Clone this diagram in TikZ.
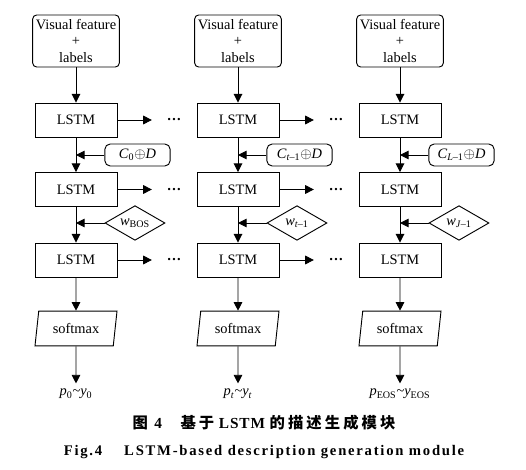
\documentclass[tikz,border=0pt]{standalone}
\usepackage{fontspec}
\setmainfont{Liberation Serif}
\newfontfamily\cjk{Noto Sans CJK SC}[LetterSpace=20]
\newfontfamily\cjklatin{Liberation Serif}[LetterSpace=6]
\newfontfamily\capfont{Liberation Serif}[LetterSpace=12]
\usetikzlibrary{arrows.meta,positioning,shapes.geometric}

\begin{document}
\begin{tikzpicture}[
  x=0.75pt,y=-0.75pt,
  every node/.style={font=\fontsize{10.8}{12.5}\selectfont},
  >={Triangle[length=6.5pt,width=6.5pt]},
  flow/.style={->,line width=0.7pt},
  inp/.style={draw,line width=0.7pt,rounded corners=3pt,minimum width=65pt,minimum height=39pt,align=center,inner sep=1pt},
  lstm/.style={draw,line width=0.7pt,minimum width=61.5pt,minimum height=25.5pt},
  cell/.style={draw,line width=0.7pt,rounded corners=4pt,minimum width=49pt,minimum height=16.5pt,inner sep=1pt},
  word/.style={draw,line width=0.7pt,diamond,aspect=1.8,minimum width=45pt,minimum height=26pt,inner sep=0pt},
  smax/.style={draw,line width=0.7pt,trapezium,trapezium left angle=79,trapezium right angle=101,
    trapezium stretches body,minimum width=61.5pt,minimum height=26pt,inner xsep=2pt},
  more/.style={inner xsep=11pt,inner ysep=2pt,font=\fontsize{10.8}{12.5}\selectfont\bfseries},
  outp/.style={inner ysep=4pt}]
\useasboundingbox (0,0) rectangle (526,470);

% one column per time step
\foreach \i/\cx/\cl/\wl/\ol in {
  0/76/{\textit{C}\textsubscript{0}$\oplus$\textit{D}}/{\textit{w}\textsubscript{BOS}}/{\textit{p}\textsubscript{0}\textasciitilde\textit{y}\textsubscript{0}},
  1/238/{\textit{C}\textsubscript{\textit{t}\textendash1}$\oplus$\textit{D}}/{\textit{w}\textsubscript{\textit{t}\textendash1}}/{\textit{p}\textsubscript{\textit{t}}\textasciitilde\textit{y}\textsubscript{\textit{t}}},
  2/400/{\textit{C}\textsubscript{\textit{L}\textendash1}$\oplus$\textit{D}}/{\textit{w}\textsubscript{\textit{J}\textendash1}}/{\textit{p}\textsubscript{EOS}\textasciitilde\textit{y}\textsubscript{EOS}}}
{
  \node[inp] (vis\i) at (\cx,41) {Visual feature\\+\\labels};
  \node[lstm] (lstmA\i) at (\cx,120) {LSTM};
  \node[cell] (cell\i) at (\cx+61.5,155) {\cl};
  \node[lstm] (lstmB\i) at (\cx,189.5) {LSTM};
  \node[word] (word\i) at (\cx+59,223) {\wl};
  \node[lstm] (lstmC\i) at (\cx,260) {LSTM};
  \node[smax] (soft\i) at (\cx,328.5) {softmax};
  \node[outp] (out\i) at (\cx,394) {\ol};
  \draw[flow] (vis\i) -- (lstmA\i);
  \draw[flow] (lstmA\i) -- (lstmB\i);
  \draw[flow] (lstmB\i) -- (lstmC\i);
  \draw[flow] (lstmC\i) -- (soft\i);
  \draw[flow] (soft\i) -- (out\i);
  \draw[flow] (cell\i.west) -- (cell\i.west -| lstmA\i.south);
  \draw[flow] (word\i.west) -- (word\i.west -| lstmB\i.south);
}

% hidden states passed on to the next step
\foreach \i/\cx in {0/76,1/238}
{
  \node[more] (dotsA\i) at (\cx+98,120) {\dots};
  \node[more] (dotsB\i) at (\cx+98,189.5) {\dots};
  \node[more] (dotsC\i) at (\cx+98,260) {\dots};
  \draw[flow] (lstmA\i) -- (dotsA\i);
  \draw[flow] (lstmB\i) -- (dotsB\i);
  \draw[flow] (lstmC\i) -- (dotsC\i);
}

\node[font=\fontsize{11.5}{13}\selectfont] (capcn) at (264,423)
  {\cjk\bfseries 图 {\cjklatin 4}\hspace{1.2em}基于\hspace{0.3em}{\cjklatin LSTM}\hspace{0.3em}的描述生成模块};
\node[font=\fontsize{11}{13}\selectfont] (capen) at (264,452)
  {\capfont\bfseries Fig.4\hspace{1.5em}LSTM-based description generation module};
\end{tikzpicture}
\end{document}
